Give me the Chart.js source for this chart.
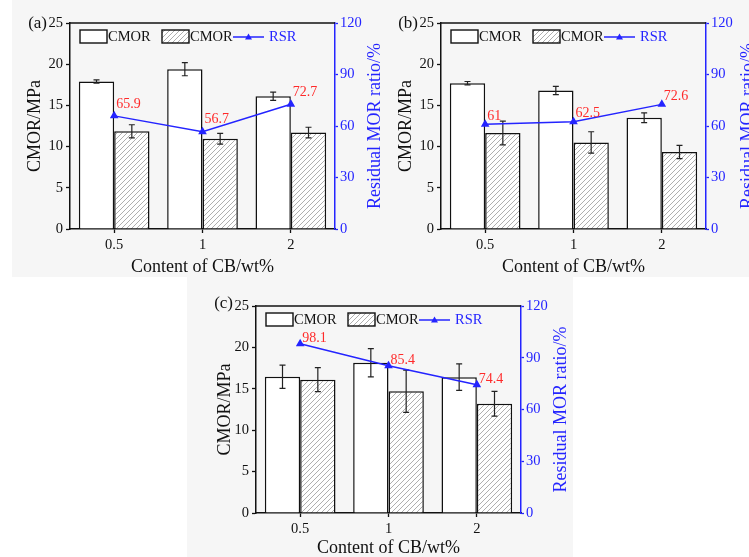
<!DOCTYPE html>
<html>
<head>
<meta charset="utf-8">
<script src="https://cdn.jsdelivr.net/npm/chart.js@4.4.1/dist/chart.umd.min.js"></script>
<style>
  body { margin: 0; width: 749px; height: 557px; overflow: hidden; background: #fff; position: relative; }
  .bg { position: absolute; background: #f6f6f6; }
  canvas { position: absolute; }
</style>
</head>
<body>
<div class="bg" style="left:12px;top:0;width:363px;height:277px"></div>
<div class="bg" style="left:375px;top:0;width:374px;height:277px"></div>
<div class="bg" style="left:187px;top:277px;width:386px;height:280px"></div>
<canvas id="chartB" width="374" height="280" style="left:375px;top:0"></canvas>
<canvas id="chartA" width="390" height="280" style="left:0;top:0"></canvas>
<canvas id="chartC" width="400" height="284" style="left:187px;top:277px"></canvas>
<script>
// categorie (kandungan CB)
const categories = ['0.5', '1', '2'];

// panel (a)
const cmorA = [17.9, 19.4, 16.1];
const cmorErrA = [0.2, 0.8, 0.5];
const rmorA = [11.85, 10.95, 11.7];
const rmorErrA = [0.8, 0.65, 0.65];
const rsrA = [65.9, 56.7, 72.7];

// panel (b)
const cmorB = [17.7, 16.8, 13.5];
const cmorErrB = [0.2, 0.5, 0.6];
const rmorB = [11.65, 10.5, 9.35];
const rmorErrB = [1.45, 1.3, 0.8];
const rsrB = [61, 62.5, 72.6];

// panel (c)
const cmorC = [16.45, 18.15, 16.4];
const cmorErrC = [1.4, 1.7, 1.6];
const rmorC = [16.1, 14.7, 13.2];
const rmorErrC = [1.45, 2.55, 1.5];
const rsrC = [98.1, 85.4, 74.4];

// axis ticks
const leftMax = 25, leftStep = 5;
const rightMax = 120, rightStep = 30;

const FONT = 'Liberation Serif';
const BLUE = '#2424ff';
const RED = '#ff2a2a';

// pola arsir diagonal
const makeHatch = (ctx) => {
  const c = document.createElement('canvas');
  c.width = 5; c.height = 5;
  const g = c.getContext('2d');
  g.fillStyle = '#fff';
  g.fillRect(0, 0, 5, 5);
  g.strokeStyle = '#8c8c8c';
  g.lineWidth = 0.7;
  g.beginPath();
  g.moveTo(0, 5); g.lineTo(5, 0);
  g.moveTo(-1, 1); g.lineTo(1, -1);
  g.moveTo(4, 6); g.lineTo(6, 4);
  g.stroke();
  return ctx.createPattern(c, 'repeat');
};

// error bar di atas setiap batang
const errorBars = {
  id: 'errorBars',
  afterDatasetDraw(chart, args) {
    const ds = chart.data.datasets[args.index];
    if (!ds.errors) return;
    const ctx = chart.ctx;
    const y = chart.scales.y;
    ctx.save();
    ctx.strokeStyle = '#222';
    ctx.lineWidth = 1.2;
    args.meta.data.forEach((bar, i) => {
      const top = y.getPixelForValue(ds.data[i] + ds.errors[i]);
      const bot = y.getPixelForValue(ds.data[i] - ds.errors[i]);
      ctx.beginPath();
      ctx.moveTo(bar.x, top); ctx.lineTo(bar.x, bot);
      ctx.moveTo(bar.x - 3, top); ctx.lineTo(bar.x + 3, top);
      ctx.moveTo(bar.x - 3, bot); ctx.lineTo(bar.x + 3, bot);
      ctx.stroke();
    });
    ctx.restore();
  }
};

// bingkai atas, legenda, label merah, judul sumbu kanan
const panelDeco = {
  id: 'panelDeco',
  afterDraw(chart, args, opts) {
    const ctx = chart.ctx;
    const { left, right, top, bottom } = chart.chartArea;
    ctx.save();

    // garis atas
    ctx.strokeStyle = '#111';
    ctx.lineWidth = 1.5;
    ctx.beginPath();
    ctx.moveTo(left, top); ctx.lineTo(right, top);
    ctx.stroke();

    // label panel
    ctx.fillStyle = '#111';
    ctx.font = `17px "${FONT}"`;
    ctx.textAlign = 'right';
    ctx.textBaseline = 'middle';
    ctx.fillText(opts.tag, left - 23, top + opts.tagDy);

    // legenda
    const ly = top + 14;
    ctx.lineWidth = 1.4;
    ctx.strokeStyle = '#111';
    ctx.fillStyle = '#fff';
    ctx.fillRect(left + 10, top + 7, 27, 13);
    ctx.strokeRect(left + 10, top + 7, 27, 13);
    ctx.fillStyle = chart.data.datasets[2].backgroundColor;
    ctx.fillRect(left + 92, top + 7, 27, 13);
    ctx.strokeRect(left + 92, top + 7, 27, 13);
    ctx.font = `14.5px "${FONT}"`;
    ctx.textAlign = 'left';
    ctx.fillStyle = '#111';
    ctx.fillText(chart.data.datasets[1].label, left + 38, ly);
    ctx.fillText(chart.data.datasets[2].label, left + 120, ly);
    ctx.strokeStyle = BLUE;
    ctx.lineWidth = 1.5;
    ctx.beginPath();
    ctx.moveTo(left + 163, ly); ctx.lineTo(left + 194, ly);
    ctx.stroke();
    ctx.fillStyle = BLUE;
    ctx.beginPath();
    ctx.moveTo(left + 178.5, ly - 3.5);
    ctx.lineTo(left + 182, ly + 2.5);
    ctx.lineTo(left + 175, ly + 2.5);
    ctx.closePath();
    ctx.fill();
    ctx.fillText(chart.data.datasets[0].label, left + 199, ly);

    // nilai RSR
    const meta = chart.getDatasetMeta(0);
    ctx.fillStyle = RED;
    ctx.font = `14px "${FONT}"`;
    meta.data.forEach((pt, i) => {
      ctx.fillText(String(chart.data.datasets[0].data[i]), pt.x + 2, pt.y - opts.labelDy);
    });

    // judul sumbu kanan
    ctx.fillStyle = BLUE;
    ctx.font = `18px "${FONT}"`;
    ctx.textAlign = 'center';
    ctx.translate(opts.rightTitleX, (top + bottom) / 2);
    ctx.rotate(-Math.PI / 2);
    ctx.fillText('Residual MOR ratio/%', 0, 0);
    ctx.restore();
  }
};

const makePanel = (id, cmor, cmorErr, rmor, rmorErr, rsr, box) => {
  const canvas = document.getElementById(id);
  const ctx = canvas.getContext('2d');
  const W = canvas.width, H = canvas.height;
  return new Chart(ctx, {
    data: {
      labels: categories,
      datasets: [
        {
          type: 'line',
          label: 'RSR',
          data: rsr,
          yAxisID: 'y1',
          borderColor: BLUE,
          backgroundColor: BLUE,
          borderWidth: 1.5,
          pointStyle: 'triangle',
          pointRadius: 3.5,
          pointBackgroundColor: BLUE,
          pointBorderColor: BLUE,
          tension: 0,
          order: 0,
        },
        {
          type: 'bar',
          label: 'CMOR',
          data: cmor,
          errors: cmorErr,
          yAxisID: 'y',
          backgroundColor: '#fff',
          borderColor: '#111',
          borderWidth: 1.5,
          categoryPercentage: 0.8,
          barPercentage: 1,
          order: 1,
        },
        {
          type: 'bar',
          label: 'CMOR',
          data: rmor,
          errors: rmorErr,
          yAxisID: 'y',
          backgroundColor: makeHatch(ctx),
          borderColor: '#111',
          borderWidth: 1.5,
          categoryPercentage: 0.8,
          barPercentage: 1,
          order: 2,
        },
      ],
    },
    options: {
      responsive: false,
      animation: false,
      devicePixelRatio: 1,
      layout: { padding: { top: box.top, left: 0, right: 0, bottom: 0 } },
      plugins: {
        legend: { display: false },
        tooltip: { enabled: false },
        panelDeco: box.deco,
      },
      scales: {
        x: {
          type: 'category',
          offset: true,
          grid: { display: true, drawOnChartArea: false, offset: false, color: '#111', tickLength: 4, tickWidth: 1.3 },
          border: { color: '#111', width: 1.5 },
          ticks: { color: '#111', padding: 3, font: { family: FONT, size: 14.5 } },
          title: { display: true, text: 'Content of CB/wt%', color: '#111', font: { family: FONT, size: 18 }, padding: { top: 0, bottom: box.xTitlePad } },
          afterFit: (s) => { s.height = H - box.bottom; },
        },
        y: {
          position: 'left',
          min: 0,
          max: leftMax,
          grid: { display: true, drawOnChartArea: false, color: '#111', tickLength: 4, tickWidth: 1.3 },
          border: { color: '#111', width: 1.5 },
          ticks: { stepSize: leftStep, color: '#111', padding: 3, font: { family: FONT, size: 14.5 } },
          title: { display: true, text: 'CMOR/MPa', color: '#111', font: { family: FONT, size: 18 }, padding: { top: box.yTitlePad, bottom: 0 } },
          afterFit: (s) => { s.width = box.left; },
        },
        y1: {
          position: 'right',
          min: 0,
          max: rightMax,
          grid: { display: true, drawOnChartArea: false, color: BLUE, tickLength: 3, tickWidth: 1.3 },
          border: { color: BLUE, width: 1.5 },
          ticks: { stepSize: rightStep, color: BLUE, padding: 2, font: { family: FONT, size: 14.5 } },
          afterFit: (s) => { s.width = W - box.right; },
        },
      },
    },
    plugins: [errorBars, panelDeco],
  });
};

makePanel('chartA', cmorA, cmorErrA, rmorA, rmorErrA, rsrA, {
  left: 70, right: 335, top: 23, bottom: 229, yTitlePad: 24, xTitlePad: 2,
  deco: { tag: '(a)', tagDy: 1, labelDy: 12, rightTitleX: 375 },
});
makePanel('chartB', cmorB, cmorErrB, rmorB, rmorErrB, rsrB, {
  left: 66, right: 331, top: 23, bottom: 229, yTitlePad: 20, xTitlePad: 2,
  deco: { tag: '(b)', tagDy: 1, labelDy: 8, rightTitleX: 373 },
});
makePanel('chartC', cmorC, cmorErrC, rmorC, rmorErrC, rsrC, {
  left: 69, right: 334, top: 29, bottom: 236, yTitlePad: 27, xTitlePad: 2,
  deco: { tag: '(c)', tagDy: -2, labelDy: 5, rightTitleX: 374 },
});
</script>
</body>
</html>
